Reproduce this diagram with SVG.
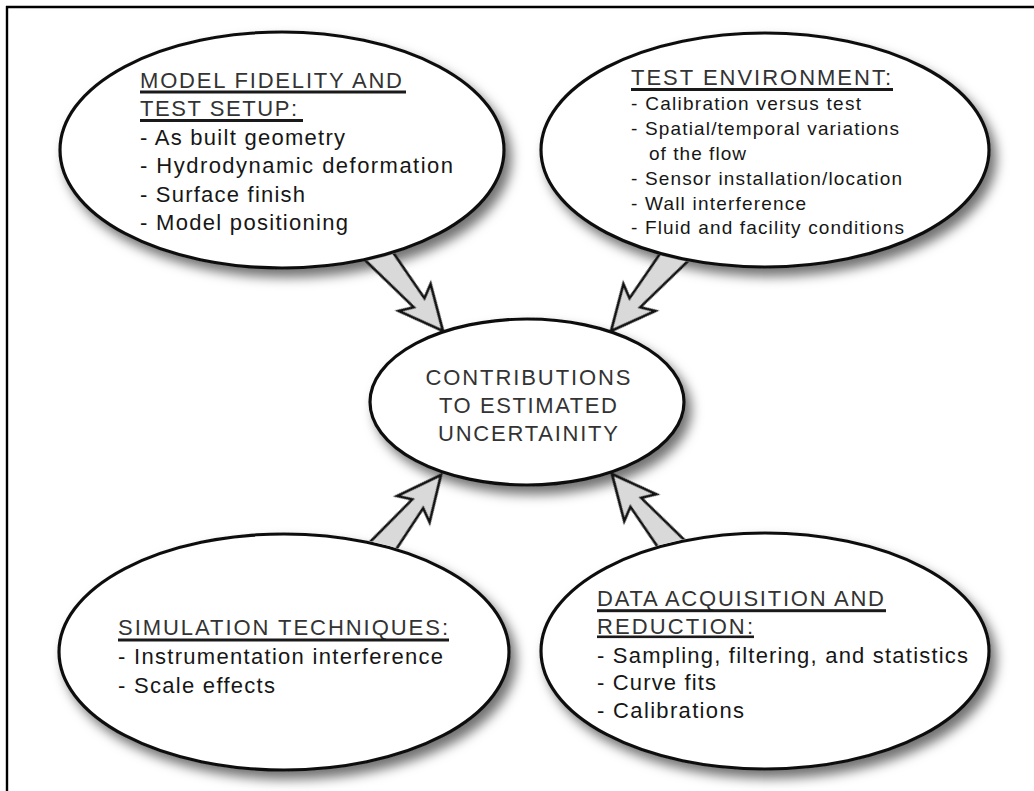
<svg xmlns="http://www.w3.org/2000/svg" width="1034" height="791" viewBox="0 0 1034 791">
  <style>
    .bubble { fill: #ffffff; stroke: #111111; stroke-width: 3.2; }
    .hd { font-family: "Liberation Sans", Arial, sans-serif; font-size: 22px; fill: #333333; }
    .bd { font-family: "Liberation Sans", Arial, sans-serif; fill: #161616; }
    .ul { fill: #1a1a1a; }
    .arrow { fill: #d9d9d9; stroke: #111111; stroke-width: 2.6; stroke-linejoin: miter; }
    .frame { stroke: #000000; stroke-width: 2.4; fill: none; }
  </style>
  <defs>
    <filter id="soft-shadow" x="-10%" y="-12%" width="125%" height="135%">
      <feGaussianBlur in="SourceAlpha" stdDeviation="6"/>
      <feOffset dx="6" dy="8" result="blur"/>
      <feFlood flood-color="#000000" flood-opacity="0.55"/>
      <feComposite in2="blur" operator="in"/>
      <feMerge>
        <feMergeNode/>
        <feMergeNode in="SourceGraphic"/>
      </feMerge>
    </filter>
    <!-- keeps arrow shafts from running into the bubbles they leave -->
    <mask id="outside-bubbles" maskUnits="userSpaceOnUse" x="0" y="0" width="1034" height="791">
      <rect x="0" y="0" width="1034" height="791" fill="#ffffff"/>
      <ellipse cx="282" cy="150" rx="224" ry="120" fill="#000000"/>
      <ellipse cx="765" cy="150" rx="226" ry="119" fill="#000000"/>
      <ellipse cx="284" cy="652" rx="227" ry="120" fill="#000000"/>
      <ellipse cx="765" cy="651" rx="226" ry="120" fill="#000000"/>
      <ellipse cx="527" cy="402" rx="157" ry="83" fill="#000000"/>
    </mask>
    <!-- block arrow pointing along +x, tip at the origin -->
    <polygon id="block-arrow" points="0,0 -44,-21 -37,-7 -112,-14.5 -112,14.5 -37,7 -44,21"/>
  </defs>

  <rect x="0" y="0" width="1034" height="791" fill="#ffffff"/>

  <!-- page frame: top and left rules -->
  <g id="frame">
    <line class="frame" x1="6" y1="7" x2="1034" y2="7"/>
    <line class="frame" x1="7" y1="6" x2="7" y2="791"/>
  </g>

  <g id="model-fidelity">
    <ellipse class="bubble" cx="282" cy="150" rx="222" ry="118" filter="url(#soft-shadow)"/>
    <text class="hd" x="140" y="88" textLength="262" lengthAdjust="spacing">MODEL FIDELITY AND</text>
    <rect class="ul" x="140" y="90.5" width="266" height="3"/>
    <text class="hd" x="140" y="116" textLength="157" lengthAdjust="spacing">TEST SETUP:</text>
    <rect class="ul" x="140" y="119" width="163" height="3"/>
    <g class="bd" font-size="22">
      <text x="140" y="145" textLength="205" lengthAdjust="spacing">- As built geometry</text>
      <text x="140" y="173" textLength="313" lengthAdjust="spacing">- Hydrodynamic deformation</text>
      <text x="140" y="201.5" textLength="165" lengthAdjust="spacing">- Surface finish</text>
      <text x="140" y="230" textLength="208" lengthAdjust="spacing">- Model positioning</text>
    </g>
  </g>

  <g id="test-environment">
    <ellipse class="bubble" cx="765" cy="150" rx="224" ry="117" filter="url(#soft-shadow)"/>
    <text class="hd" x="631" y="85" textLength="260" lengthAdjust="spacing">TEST ENVIRONMENT:</text>
    <rect class="ul" x="631" y="88" width="262" height="3"/>
    <g class="bd" font-size="19">
      <text x="631" y="110" textLength="230" lengthAdjust="spacing">- Calibration versus test</text>
      <text x="631" y="135" textLength="268" lengthAdjust="spacing">- Spatial/temporal variations</text>
      <text x="649" y="159.5" textLength="97" lengthAdjust="spacing">of the flow</text>
      <text x="631" y="185" textLength="271" lengthAdjust="spacing">- Sensor installation/location</text>
      <text x="631" y="210" textLength="175" lengthAdjust="spacing">- Wall interference</text>
      <text x="631" y="233.5" textLength="273" lengthAdjust="spacing">- Fluid and facility conditions</text>
    </g>
  </g>

  <g id="simulation-techniques">
    <ellipse class="bubble" cx="284" cy="652" rx="225" ry="118" filter="url(#soft-shadow)"/>
    <text class="hd" x="118" y="635" textLength="330" lengthAdjust="spacing">SIMULATION TECHNIQUES:</text>
    <rect class="ul" x="118" y="638.5" width="331" height="3"/>
    <g class="bd" font-size="22">
      <text x="118" y="663.5" textLength="325" lengthAdjust="spacing">- Instrumentation interference</text>
      <text x="118" y="692.5" textLength="157" lengthAdjust="spacing">- Scale effects</text>
    </g>
  </g>

  <g id="data-acquisition">
    <ellipse class="bubble" cx="765" cy="651" rx="224" ry="118" filter="url(#soft-shadow)"/>
    <text class="hd" x="597" y="606" textLength="287" lengthAdjust="spacing">DATA ACQUISITION AND</text>
    <rect class="ul" x="597" y="609.2" width="289" height="3"/>
    <text class="hd" x="597" y="634" textLength="156" lengthAdjust="spacing">REDUCTION:</text>
    <rect class="ul" x="597" y="635.5" width="157" height="2.6"/>
    <g class="bd" font-size="22">
      <text x="597" y="662.7" textLength="371" lengthAdjust="spacing">- Sampling, filtering, and statistics</text>
      <text x="597" y="690" textLength="119" lengthAdjust="spacing">- Curve fits</text>
      <text x="597" y="718.3" textLength="147" lengthAdjust="spacing">- Calibrations</text>
    </g>
  </g>

  <g id="contributions">
    <ellipse class="bubble" cx="527" cy="402" rx="157" ry="83" filter="url(#soft-shadow)"/>
    <g class="hd" text-anchor="middle">
      <text x="528" y="385" textLength="205" lengthAdjust="spacing">CONTRIBUTIONS</text>
      <text x="528" y="412.7" textLength="178" lengthAdjust="spacing">TO ESTIMATED</text>
      <text x="528" y="441" textLength="180" lengthAdjust="spacing">UNCERTAINITY</text>
    </g>
  </g>

  <!-- connectors: grey block arrows pointing into the central bubble -->
  <g id="connectors" mask="url(#outside-bubbles)">
    <use href="#block-arrow" class="arrow" transform="translate(443,331) rotate(49.8)"/>
    <use href="#block-arrow" class="arrow" transform="translate(611,331) rotate(130.2)"/>
    <use href="#block-arrow" class="arrow" transform="translate(441,475) rotate(-51)"/>
    <use href="#block-arrow" class="arrow" transform="translate(612,474) rotate(-130)"/>
  </g>
</svg>
